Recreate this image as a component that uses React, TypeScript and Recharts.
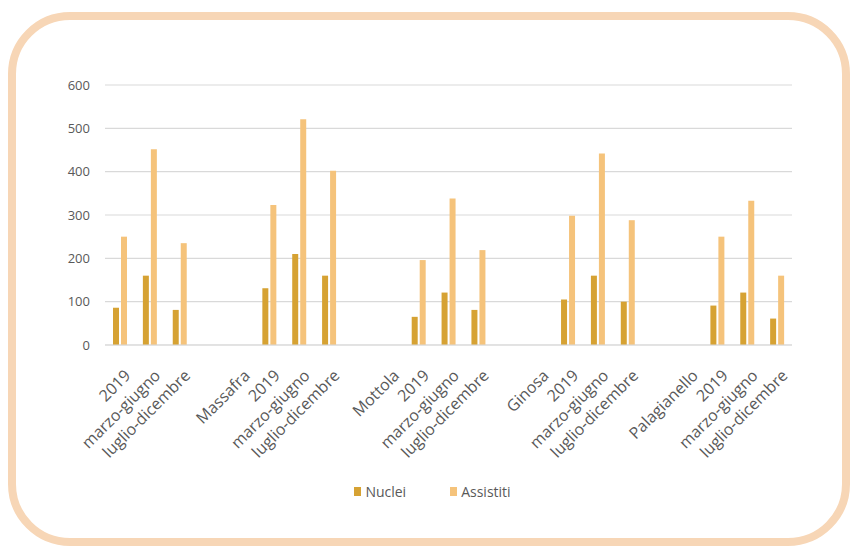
import React from 'react';
import { BarChart, Bar, XAxis, YAxis, CartesianGrid } from 'recharts';

const categories = [
  '2019', 'marzo-giugno', 'luglio-dicembre', '',
  'Massafra', '2019', 'marzo-giugno', 'luglio-dicembre', '',
  'Mottola', '2019', 'marzo-giugno', 'luglio-dicembre', '',
  'Ginosa', '2019', 'marzo-giugno', 'luglio-dicembre', '',
  'Palagianello', '2019', 'marzo-giugno', 'luglio-dicembre',
];

const nuclei: (number | null)[] = [
  86, 160, 81, null,
  null, 131, 210, 160, null,
  null, 65, 121, 81, null,
  null, 105, 160, 100, null,
  null, 91, 121, 61,
];

const assistiti: (number | null)[] = [
  250, 452, 235, null,
  null, 323, 521, 402, null,
  null, 196, 338, 219, null,
  null, 298, 442, 288, null,
  null, 250, 333, 160,
];

const yTicks = [0, 100, 200, 300, 400, 500, 600];
const seriesNames = ['Nuclei', 'Assistiti'];

const data = categories.map((c, i) => ({
  key: `c${i}`,
  label: c,
  Nuclei: nuclei[i],
  Assistiti: assistiti[i],
}));

const COLOR_N = '#D6A233';
const COLOR_A = '#F5C37B';
const FONT = '"Open Sans", "Noto Sans", sans-serif';

const XTick = (props: any) => {
  const { x, y, payload } = props;
  const label = categories[payload.index] ?? '';
  const tx = x + 2;
  const ty = y + 14;
  return (
    <g>
      <text
        x={tx}
        y={ty}
        transform={`rotate(-45 ${tx} ${ty})`}
        textAnchor="end"
        dominantBaseline="hanging"
        fontSize={16}
        fill="#595959"
        fontFamily={FONT}
      >
        {label}
      </text>
    </g>
  );
};

export default function App() {
  return (
    <div style={{ position: 'absolute', left: 0, top: 0, width: 855, height: 550, background: '#fff', overflow: 'hidden' }}>
      <div
        style={{
          position: 'absolute',
          left: 8,
          top: 12,
          width: 826,
          height: 518,
          border: '8px solid #F7D6B6',
          borderRadius: 62,
        }}
      />
      <div style={{ position: 'absolute', left: 0, top: 0 }}>
        <BarChart
          width={855}
          height={550}
          data={data}
          margin={{ top: 85, right: 63, left: 65, bottom: 100 }}
          barSize={6}
          barGap={2}
        >
          <CartesianGrid vertical={false} stroke="#D9D9D9" strokeWidth={1.2} />
          <XAxis
            dataKey="key"
            interval={0}
            tick={<XTick />}
            tickLine={false}
            axisLine={{ stroke: '#D9D9D9' }}
            height={105}
          />
          <YAxis
            domain={[0, 600]}
            ticks={yTicks}
            width={40}
            tickLine={false}
            axisLine={false}
            tickMargin={9}
            tick={{ fontSize: 13, fill: '#595959', fontFamily: FONT }}
          />
          <Bar dataKey="Nuclei" fill={COLOR_N} isAnimationActive={false} />
          <Bar dataKey="Assistiti" fill={COLOR_A} isAnimationActive={false} />
        </BarChart>
      </div>
      <div
        style={{
          position: 'absolute',
          top: 482,
          left: 0,
          width: 855,
          display: 'flex',
          justifyContent: 'center',
          fontFamily: FONT,
          fontSize: 14,
          color: '#595959',
          paddingLeft: 10,
          boxSizing: 'border-box',
        }}
      >
        {seriesNames.map((name, i) => (
          <div key={name} style={{ display: 'flex', alignItems: 'center', marginRight: i === 0 ? 44 : 0 }}>
            <span
              style={{
                width: 7,
                height: 9,
                background: i === 0 ? COLOR_N : COLOR_A,
                display: 'inline-block',
                marginRight: 4,
              }}
            />
            <span>{name}</span>
          </div>
        ))}
      </div>
    </div>
  );
}
